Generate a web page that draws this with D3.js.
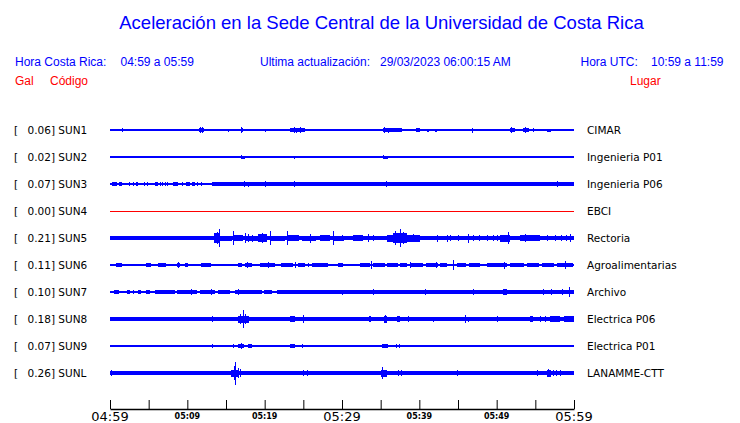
<!DOCTYPE html>
<html><head><meta charset="utf-8">
<script src="https://cdn.jsdelivr.net/npm/d3@7"></script>
<style>
html,body{margin:0;padding:0;background:#fff;}
svg{display:block;}
</style></head>
<body>
<svg id="chart" width="740" height="423"></svg>
<script>
// ---------------- DATA ----------------
const titleText = "Aceleración en la Sede Central de la Universidad de Costa Rica";
const localRange = "04:59 a 05:59";
const utcRange = "10:59 a 11:59";
const updated = "29/03/2023 06:00:15 AM";
const stations = ["SUN1","SUN2","SUN3","SUN4","SUN5","SUN6","SUN7","SUN8","SUN9","SUNL"];
const galValues = [0.06,0.02,0.07,0.00,0.21,0.11,0.10,0.18,0.07,0.26];
const places = ["CIMAR","Ingenieria P01","Ingenieria P06","EBCI","Rectoria","Agroalimentarias","Archivo","Electrica P06","Electrica P01","LANAMME-CTT"];
const traceColors = ["blue","blue","blue","red","blue","blue","blue","blue","blue","blue"];
// background (noise) half-amplitude of each trace, relative units
const baseAmp = [0.9,0.6,0.9,0.5,1.6,0.9,0.9,1.9,0.8,1.8];
const tickMinutes = [0,5,10,15,20,25,30,35,40,45,50,55,60];
const tickLabels = ["04:59","","05:09","","05:19","","05:29","","05:39","","05:49","","05:59"];
const bigLabelMinutes = [0,30,60];

// envelope segments: [start minute, end minute, half-amplitude]
const sun1 = [[0.4,0.4,1.3],[1.6,1.6,1.8],[5.95,6.15,1.3],[11.5,12.2,2.3],[11.7,11.7,3.3],[11.9,11.9,3],
 [15.3,15.3,1.5],[16.9,17.2,2.2],[17.0,17.0,2.7],[19.4,19.6,1.3],[20.0,20.0,1.5],
 [23.3,25.2,2.0],[23.8,23.8,3.3],[24.6,24.6,3.3],[24.1,24.1,2.5],[25.6,25.6,1.2],[26.5,26.5,1.2],[27.7,27.7,1.2],[28.2,28.2,1.2],
 [30.9,31.1,1.3],[33.0,33.0,1],[33.6,33.6,1],[35.3,37.7,1.8],[35.4,35.4,3],[35.9,35.9,2.5],[36.3,36.3,2.3],
 [38.7,38.7,1.3],[39.6,40.1,1.7],[41.0,41.2,1.5],[42.0,42.3,1.5],[44.1,44.1,0.9],[45.8,45.8,1],[46.8,46.8,2.5],
 [47.4,47.4,1.3],[48.4,48.4,1.1],[49.5,49.5,1],[51.7,52.4,2.2],[51.9,51.9,3],[52.9,52.9,1.1],[53.4,54.2,2.2],[53.7,53.7,2.8],
 [54.7,54.7,1.8],[55.7,55.7,1],[56.5,57.0,1.5],[58.4,58.4,1],[59.7,59.7,1]];
const sun2 = [[16.9,17.5,1.5],[16.9,16.9,2],[17.9,17.9,1.3],[23.8,23.9,1.5],[35.3,35.9,1.5],[35.3,35.3,1.8]];
const sun3 = [[0.26,0.9,1.6],[1.16,1.55,1.6],[2.46,2.6,1.6],[2.97,2.97,1.6],[3.36,3.36,1.6],[3.5,3.5,1.6],[4.4,4.4,1.6],[4.8,4.8,1.6],
 [5.8,6.2,1.6],[6.5,6.5,1.6],[6.7,6.7,1.6],[7.1,7.1,1.6],[7.4,7.4,1.6],[8.15,8.8,1.6],[9.3,9.3,1.6],[9.8,10.3,1.6],
 [10.6,11.0,1.6],[11.25,11.25,1.6],[11.8,11.8,1.6],[13.15,60,1.7],
 [16.9,16.9,2.3],[17.3,17.3,2.7],[17.8,17.8,2.5],[20.0,20.0,2.7],[23.8,23.8,2.7],[35.7,35.7,3.0],[57.8,57.8,2.7]];
const sun4 = [];
const sun5 = [[0,0.65,1.7],[0.65,1.4,2.3],[1.9,1.9,2.3],[4.1,4.1,2],[4.4,4.4,2],[4.8,4.8,2],[6.7,7.1,2],[7.8,9.3,2],
 [10.6,11.6,2.3],[12.2,12.2,2],[13.4,14.2,5],[14.1,14.1,9.3],[13.8,13.8,6],[14.2,15.8,2.5],[15.9,15.9,6.7],
 [16.0,17.2,3],[17.4,17.4,5],[17.4,19.2,2.5],[17.9,17.9,4],[18.4,18.4,3.5],[19.2,20.3,4],[19.6,19.6,5],[20.7,20.7,7],
 [20.8,22.6,2.5],[22.9,22.9,7],[23.0,24.5,3],[24.8,26.6,2.5],[25.8,25.8,4.5],[27.2,28.5,3],[28.9,28.9,7.3],[29.0,30.3,2.5],
 [30.0,30.0,3.3],[30.3,31.4,2.3],[31.4,32.7,3.3],[32.7,35.8,2.3],[33.4,33.4,4.3],[34.0,34.0,3.3],[35.8,36.6,3.5],
 [36.6,38.4,5],[36.85,36.85,6.7],[37.5,37.5,8.7],[37.9,37.9,6],[38.4,40.1,3.5],[39.2,39.2,4.3],[40.1,60,2.3],
 [42.3,42.3,3.5],[43.6,43.6,3.5],[44.0,44.0,3],[45.0,45.0,3],[46.3,46.3,4.5],[47.0,47.0,3],[47.7,47.7,3],[48.7,48.7,3.3],
 [49.5,49.5,3],[50.0,50.0,3],[50.4,51.7,3.5],[51.5,51.5,6],[53.0,55.6,3],[53.7,53.7,4],[54.8,54.8,3.3],[56.5,56.5,3],
 [57.5,57.5,3],[58.3,58.3,3],[59.0,59.0,3],[59.5,59.5,4]];
const sun6 = [[0.8,1.55,1.7],[2.97,2.97,1.3],[3.6,3.6,1.3],[4.0,4.0,1.3],[4.65,5.3,1.7],[6.2,7.25,1.7],[6.6,6.6,2],
 [7.9,7.9,1.3],[8.7,9.05,2],[8.8,8.8,3],[9.7,10.1,1.7],[11.8,13.05,1.7],[14.7,14.7,1.3],[15.4,15.4,1.3],[16.0,16.0,1.3],
 [16.55,17.1,1.7],[17.45,18.35,1.7],[17.7,17.7,3],[19.4,21.3,1.7],[20.4,20.4,2.7],[20.9,20.9,2],[22.1,23.65,1.7],
 [23.9,23.9,2.7],[24.3,25.2,1.7],[25.6,25.6,1.7],[26.1,28.2,1.7],[28.7,28.7,1.3],[29.5,30.1,1.7],[30.4,30.4,1.3],
 [32.3,33.6,1.7],[33.8,33.8,4],[34.0,35.5,1.7],[35.8,37.2,1.7],[37.5,38.4,1.7],[38.8,38.8,3.3],[38.9,40.5,1.7],
 [40.9,42.4,1.7],[42.15,42.15,2.7],[42.7,43.6,1.7],[44.4,44.4,5.3],[44.9,46.0,1.7],[46.4,47.8,1.7],[48.7,51.3,1.7],
 [50.9,50.9,3.5],[51.7,53.5,1.7],[53.9,55.5,1.7],[55.8,57.4,1.7],[57.8,59.9,1.7],[58.8,58.8,4],[59.5,59.5,2.3]];
const sun7 = [[0.5,1.15,1.7],[2.2,2.6,1.7],[2.97,2.97,1.7],[3.6,4.0,1.7],[4.65,5.2,1.7],[5.8,8.4,1.7],[6.25,6.25,2.3],
 [8.7,11.25,1.7],[10.5,10.5,2.7],[11.6,13.6,1.7],[13.0,13.0,2.7],[14.0,15.5,1.7],[16.2,17.45,1.7],[16.5,16.5,3],
 [17.45,19.65,1.7],[19.9,20.95,1.7],[21.6,60,1.7],[29.96,29.96,2.5],[34.0,34.0,2.7],[35.8,35.8,2.3],[40.7,40.7,2.7],
 [43.1,43.1,2.3],[45.5,45.5,2.3],[46.9,46.9,3],[50.8,51.3,3],[56.0,56.0,2.7],[57.0,57.0,2.7],[58.4,58.4,2.7],[59.3,59.3,5]];
const sun8 = [[13.15,13.15,2.7],[14.0,14.0,2.3],[16.2,16.2,2.3],[16.5,18.0,3.5],[17.15,17.15,8.8],[17.45,17.45,5],[16.8,16.8,5],
 [23.3,23.9,2.7],[23.7,23.7,3],[24.9,24.9,4],[29.4,29.4,2],[32.3,32.3,2],[33.1,33.1,2],[33.5,33.8,2.7],[35.4,35.8,3.5],
 [35.6,35.6,4],[36.5,36.5,2],[37.1,37.5,2.7],[38.5,38.5,2.7],[39.7,39.7,2],[41.8,41.8,2.5],[45.9,45.9,4],[46.3,46.3,2.5],
 [50.0,50.0,2.7],[51.0,51.0,2.3],[51.7,51.7,2],[52.8,52.8,2],[54.3,54.7,2.7],[55.6,55.6,2.7],[56.2,56.2,2.7],
 [56.9,58.2,2.7],[58.7,60,2.7],[59.05,59.05,3.3]];
const sun9 = [[2.8,2.8,1.3],[13.15,13.15,1.7],[15.95,15.95,1.7],[16.5,17.3,2.3],[17.0,17.0,3],[17.9,18.4,1.7],[23.3,23.9,1.7],
 [24.8,24.8,1.7],[33.7,33.7,1.3],[35.2,36.0,2],[37.0,37.0,2],[37.4,37.4,2],[44.6,44.6,1.3],[50.4,50.4,1.3],
 [55.5,55.5,1.3],[57.3,57.3,1.3],[59.6,59.6,1]];
const sunL = [[0.13,0.13,2.7],[1.9,1.9,2],[3.6,3.6,2],[5.8,5.8,2],[6.7,6.7,2],[8.4,8.4,2],[9.05,9.05,2],[12.9,12.9,2],
 [15.7,16.7,3.5],[16.0,16.0,6.7],[16.2,16.2,11.5],[16.5,16.5,5],[16.8,16.8,4],[20.5,20.5,2],[22.6,22.6,2],
 [24.9,24.9,3],[25.5,25.5,3],[35.0,35.8,3.5],[35.2,35.2,5.7],[37.2,37.2,2.7],[37.6,37.6,2.7],[44.9,44.9,2.7],
 [47.1,47.1,2],[55.2,55.2,2.7],[55.8,55.8,1.5],[56.5,57.0,3.5],[56.7,56.7,4.3],[57.3,57.3,2.7],[57.7,57.7,2.7],[58.2,58.2,2.7]];
const traceEvents = [sun1,sun2,sun3,sun4,sun5,sun6,sun7,sun8,sun9,sunL];

// ---------------- DRAW ----------------
const svg = d3.select("#chart");
const t0 = new Date(2023,2,29,4,59,0);
const t1 = new Date(2023,2,29,5,59,0);
const atMin = m => new Date(t0.getTime() + m*60000);
const x = d3.scaleTime().domain([t0,t1]).range([110,574]);
const y = d3.scalePoint().domain(stations).range([130,373]);
const amp = d3.scaleLinear().domain([0,12]).range([0,12]);

const sansA = "'Liberation Sans', Arial, Helvetica, sans-serif";
const sansD = "'DejaVu Sans', Verdana, sans-serif";

svg.append("text").attr("x",381.5).attr("y",29).attr("text-anchor","middle")
  .attr("font-family",sansA).attr("font-size",18.5).attr("fill","#0000ff").text(titleText);

const hdr = [[15,"Hora Costa Rica:"],[120.5,localRange],[260,"Ultima actualización:"],[380,updated],[580.5,"Hora UTC:"],[651,utcRange]];
svg.selectAll("text.hdr").data(hdr).join("text").attr("class","hdr")
  .attr("x",d=>d[0]).attr("y",65.5).attr("font-family",sansA).attr("font-size",12).attr("fill","#0000ff").text(d=>d[1]);
const red = [[15,"Gal"],[50,"Código"],[630,"Lugar"]];
svg.selectAll("text.red").data(red).join("text").attr("class","red")
  .attr("x",d=>d[0]).attr("y",85).attr("font-family",sansA).attr("font-size",12).attr("fill","#ff0000").text(d=>d[1]);

// traces
const rows = svg.append("g").selectAll("g").data(stations).join("g");
rows.each(function(code,i){
  const g = d3.select(this);
  const c = y(code);
  const col = traceColors[i];
  g.append("rect").attr("x",x(t0)).attr("width",x(t1)-x(t0))
    .attr("y",c-amp(baseAmp[i])).attr("height",2*amp(baseAmp[i])).attr("fill",col)
    .attr("shape-rendering","crispEdges");
  g.selectAll("rect.ev").data(traceEvents[i]).join("rect").attr("class","ev")
    .attr("x",d=>x(atMin(d[0])))
    .attr("width",d=>Math.max(1, x(atMin(d[1]))-x(atMin(d[0]))))
    .attr("y",d=>c-amp(d[2])).attr("height",d=>2*amp(d[2])).attr("fill",col)
    .attr("shape-rendering","crispEdges");
  const lab = g.append("text").attr("y",c+4).attr("font-family",sansD).attr("font-size",10.5).attr("fill","#000");
  lab.append("tspan").attr("x",14).text("[");
  lab.append("tspan").attr("x",27.5).text(galValues[i].toFixed(2)+"] "+code);
  g.append("text").attr("x",587).attr("y",c+4).attr("font-family",sansD).attr("font-size",10.5).attr("fill","#000").text(places[i]);
});

// axis
const axis = d3.axisBottom(x).tickValues(tickMinutes.map(atMin)).tickSizeInner(-9).tickSizeOuter(0).tickFormat(()=> "");
const ax = svg.append("g").attr("transform","translate(0,409)").call(axis);
ax.select(".domain").attr("stroke","#000").attr("stroke-width",1.3);
ax.selectAll(".tick line").attr("stroke","#000");
svg.selectAll("text.tl").data(tickMinutes.map((m,i)=>({m,l:tickLabels[i]})).filter(d=>d.l)).join("text").attr("class","tl")
  .attr("x",d=>x(atMin(d.m))).attr("text-anchor","middle")
  .attr("y",d=>bigLabelMinutes.includes(d.m)?421:418.5)
  .attr("font-family",sansD)
  .attr("font-size",d=>bigLabelMinutes.includes(d.m)?13:8)
  .attr("font-weight",d=>bigLabelMinutes.includes(d.m)?"normal":"bold")
  .attr("fill","#000").text(d=>d.l);
</script>
</body></html>
